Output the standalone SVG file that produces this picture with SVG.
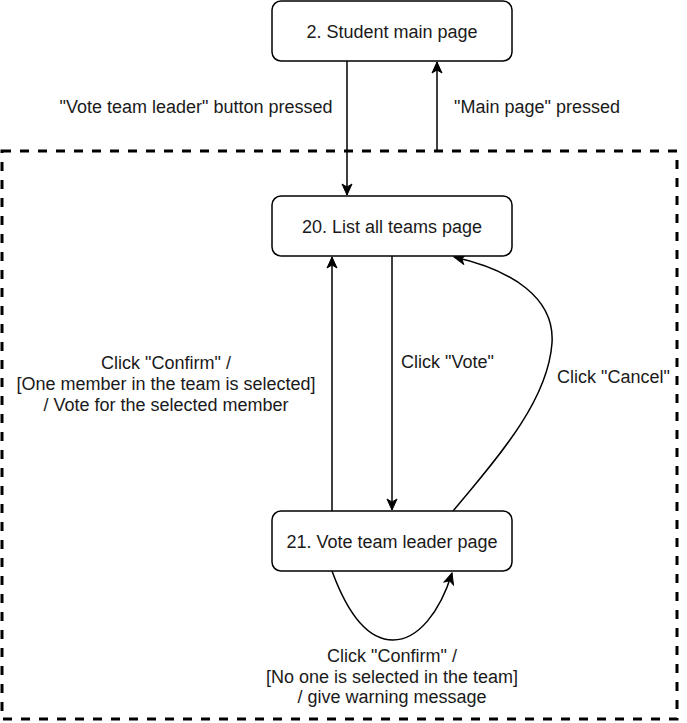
<svg xmlns="http://www.w3.org/2000/svg" width="687" height="723" viewBox="0 0 687 723">
<style>
.node rect{fill:#fff;stroke:#000;stroke-width:1.5}
text{font-family:"Liberation Sans",Arial,Helvetica,sans-serif;font-size:18px;fill:#1a1a1a}
.c{text-anchor:middle}
.edge{fill:none;stroke:#000;stroke-width:1.5}
</style>
<defs>
<marker id="arr" markerUnits="userSpaceOnUse" markerWidth="14" markerHeight="12" viewBox="-12 -6 14 12" refX="0" refY="0" orient="auto">
<path d="M-11,-5 L0,0 L-11,5 L-8,0 Z" fill="#000" stroke="#000" stroke-width="1"/>
</marker>
</defs>
<rect id="boundary" x="2" y="151" width="675" height="568" fill="none" stroke="#000" stroke-width="3" stroke-dasharray="9 9"/>
<g id="connectors">
<path class="edge" d="M347,61 L347,195" marker-end="url(#arr)"/>
<path class="edge" d="M437,151 L437,62" marker-end="url(#arr)"/>
<path class="edge" d="M332,511 L332,257" marker-end="url(#arr)"/>
<path class="edge" d="M392,256 L392,510" marker-end="url(#arr)"/>
<path class="edge" d="M453,511 C500,455 548,400 552,343 C555,298 512,270 454,257" marker-end="url(#arr)"/>
<path class="edge" d="M332,571 C350,620 370,640 393,640 C418,640 440,612 452,573" marker-end="url(#arr)"/>
</g>
<g id="labels">
<text class="c" x="196" y="113">"Vote team leader" button pressed</text>
<text class="c" x="537" y="113">"Main page" pressed</text>
<text x="401" y="368">Click "Vote"</text>
<text x="557" y="383">Click "Cancel"</text>
<text class="c" x="166" y="369">Click "Confirm" /</text>
<text class="c" x="166" y="390">[One member in the team is selected]</text>
<text class="c" x="166" y="411">/ Vote for the selected member</text>
<text class="c" x="392" y="662">Click "Confirm" /</text>
<text class="c" x="392" y="683">[No one is selected in the team]</text>
<text class="c" x="392" y="703">/ give warning message</text>
</g>
<g id="n2" class="node">
<rect x="272" y="1" width="240" height="60" rx="9"/>
<text class="c" x="392" y="38">2. Student main page</text>
</g>
<g id="n20" class="node">
<rect x="272" y="196" width="240" height="60" rx="9"/>
<text class="c" x="392" y="233">20. List all teams page</text>
</g>
<g id="n21" class="node">
<rect x="272" y="511" width="240" height="60" rx="9"/>
<text class="c" x="392" y="548">21. Vote team leader page</text>
</g>
</svg>
